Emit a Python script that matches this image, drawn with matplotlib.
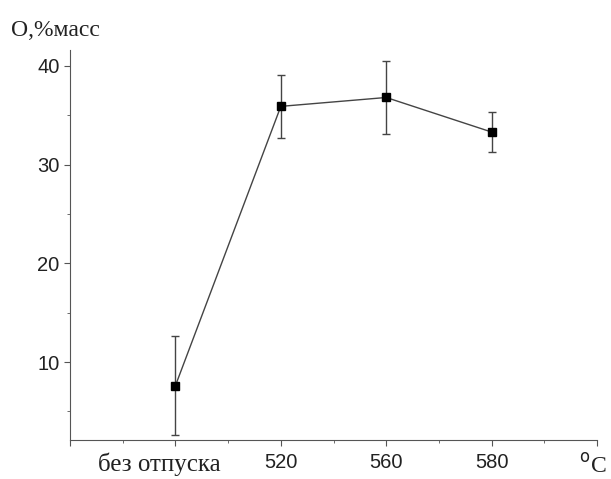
import matplotlib.pyplot as plt
import matplotlib.transforms as mtransforms
import numpy as np

# data
labels = ["без отпуска", "520", "560", "580"]
pos = np.array([1, 2, 3, 4])
o_mass = np.array([7.6, 35.9, 36.8, 33.3])
err = np.array([5.0, 3.2, 3.7, 2.0])

fig = plt.figure(figsize=(6.11, 4.79), dpi=100)
ax = fig.add_axes([0.1146, 0.0814, 0.8625, 0.814])

ax.errorbar(pos, o_mass, yerr=err, color='#444444', lw=1.0, elinewidth=1.0,
            capsize=3, capthick=1.0, marker='s', ms=6, mfc='k', mec='k')

ax.set_xlim(0, 5)
ax.set_ylim(2.1, 41.6)
ax.spines['top'].set_visible(False)
ax.spines['right'].set_visible(False)
for s in ['left', 'bottom']:
    ax.spines[s].set_color('#555555')

ax.set_xticks(np.arange(0, 6))
ax.set_xticks(np.arange(0.5, 5, 1), minor=True)
ax.set_xticklabels([""] + labels + [""])
ax.set_yticks([10, 20, 30, 40])
ax.set_yticks([5, 15, 25, 35], minor=True)
ax.tick_params(axis='both', which='major', direction='out', length=4, color='#555555', labelsize=14.5)
ax.tick_params(axis='x', which='major', pad=5)
ax.tick_params(axis='both', which='minor', direction='out', length=2.5, color='#555555')
for t in ax.get_xticklabels() + ax.get_yticklabels():
    t.set_family('Liberation Sans')
    t.set_color('#222222')
first = ax.get_xticklabels()[1]
first.set_family('Liberation Serif')
first.set_fontsize(18)
first.set_transform(first.get_transform() + mtransforms.ScaledTranslation(-0.16, 0, fig.dpi_scale_trans))

fig.text(0.018, 0.925, "O,%масс", family='Liberation Serif', fontsize=17, color='#222222')
fig.text(0.948, 0.012, "$^{\\rm o}$C", family='Liberation Serif', fontsize=17, color='#222222')

fig.savefig("out.png", dpi=100)
